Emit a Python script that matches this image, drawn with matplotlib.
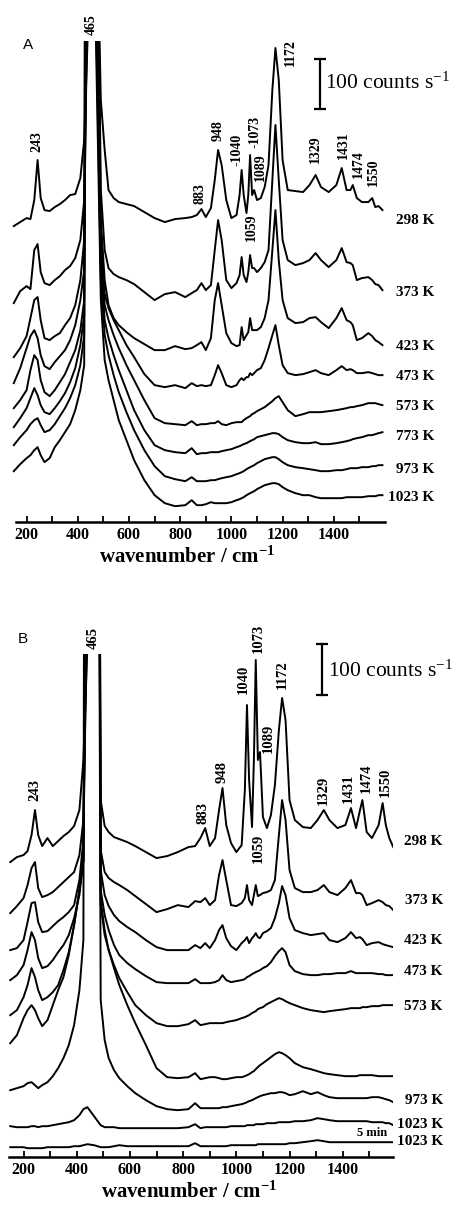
import matplotlib
matplotlib.use("Agg")
import matplotlib.pyplot as plt
from matplotlib.ticker import FixedLocator

plt.rcParams["font.family"] = ["Liberation Serif", "DejaVu Serif"]
plt.rcParams["mathtext.default"] = "regular"

# wavenumber grid the traces were read on (cm-1)
wavenumber = [150, 175, 200, 215, 230, 243, 255, 270, 290, 310,
              330, 350, 370, 390, 410, 425, 440, 465, 490, 505,
              520, 540, 560, 590, 620, 660, 700, 740, 780, 820,
              845, 865, 883, 900, 920, 935, 948, 962, 980, 1000,
              1020, 1032, 1040, 1048, 1059, 1066, 1073, 1081, 1089, 1100,
              1115, 1130, 1145, 1160, 1172, 1185, 1200, 1220, 1250, 1280,
              1305, 1329, 1350, 1380, 1410, 1431, 1450, 1465, 1474, 1490,
              1510, 1535, 1550, 1562, 1575, 1590]

# panel A, intensity above each trace's own minimum (counts s-1)
# the 440/465 points are off scale (the 465 band is cut at the top)
a_298 = [0, 8, 16, 14, 52, 132, 56, 32, 30, 38,
         44, 52, 62, 64, 96, 172, 400, 842, 252, 152,
         72, 56, 48, 44, 40, 28, 16, 8, 14, 16,
         18, 22, 34, 18, 36, 92, 152, 122, 52, 16,
         22, 62, 112, 62, 26, 62, 142, 62, 72, 52,
         56, 78, 122, 272, 356, 292, 132, 72, 70, 68,
         82, 102, 78, 68, 82, 116, 72, 72, 82, 56,
         48, 48, 56, 38, 40, 32]
a_373 = [0, 24, 34, 28, 106, 118, 62, 40, 36, 46,
         54, 66, 74, 90, 126, 206, 640, 1290, 226, 106,
         70, 58, 52, 46, 38, 22, 6, 18, 22, 12,
         20, 26, 40, 26, 36, 106, 166, 126, 46, 30,
         40, 56, 92, 56, 42, 62, 96, 70, 70, 62,
         70, 82, 106, 246, 356, 246, 126, 86, 76, 80,
         86, 100, 86, 72, 86, 110, 82, 80, 76, 46,
         50, 52, 46, 38, 36, 26]
a_423 = [0, 18, 42, 78, 114, 120, 74, 38, 34, 42,
         48, 64, 78, 104, 154, 234, 897, 1268, 274, 154,
         104, 78, 64, 50, 38, 26, 14, 14, 22, 16,
         18, 24, 30, 14, 38, 114, 148, 104, 48, 28,
         22, 24, 60, 34, 44, 50, 78, 54, 54, 54,
         60, 78, 114, 214, 294, 194, 114, 78, 68, 70,
         78, 80, 70, 58, 78, 98, 74, 70, 64, 34,
         38, 48, 42, 34, 30, 24]
a_473 = [10, 40, 80, 104, 116, 100, 66, 44, 38, 52,
         64, 76, 96, 126, 176, 236, 1217, 1201, 296, 188,
         160, 136, 116, 86, 62, 28, 6, 2, 6, 0,
         10, 4, 6, 4, 6, 26, 46, 30, 6, 2,
         6, 16, 20, 16, 22, 22, 30, 26, 30, 36,
         40, 56, 80, 106, 126, 86, 46, 30, 26, 28,
         32, 36, 30, 26, 36, 44, 36, 38, 36, 30,
         30, 32, 30, 28, 26, 26]
a_573 = [34, 50, 70, 110, 140, 130, 90, 66, 58, 70,
         86, 102, 126, 150, 190, 250, 1804, 1154, 350, 240,
         210, 180, 154, 120, 90, 50, 14, 4, 2, 0,
         8, 0, 2, 2, 4, 4, 8, 2, 0, 4,
         6, 6, 6, 10, 14, 16, 18, 22, 24, 28,
         32, 36, 42, 48, 54, 58, 46, 30, 18, 22,
         26, 26, 26, 28, 30, 32, 34, 36, 36, 38,
         40, 44, 44, 44, 42, 40]
a_773 = [54, 72, 92, 112, 132, 118, 98, 84, 80, 92,
         106, 122, 144, 172, 218, 278, 2333, 1125, 378, 268,
         232, 198, 168, 128, 88, 48, 18, 8, 4, 2,
         12, 0, 2, 2, 4, 4, 4, 6, 8, 10,
         14, 16, 18, 20, 22, 24, 26, 28, 30, 34,
         36, 38, 40, 42, 42, 40, 34, 28, 24, 22,
         22, 24, 20, 20, 22, 24, 26, 28, 30, 32,
         34, 38, 38, 40, 42, 44]
a_973 = [72, 88, 102, 114, 122, 126, 112, 98, 102, 114,
         130, 146, 166, 192, 232, 292, 3232, 1105, 402, 292,
         252, 212, 178, 138, 102, 62, 30, 10, 4, 0,
         8, 0, 0, 0, 2, 2, 4, 6, 8, 10,
         14, 16, 18, 20, 24, 26, 28, 30, 32, 36,
         40, 44, 46, 48, 48, 44, 38, 32, 28, 26,
         24, 22, 20, 20, 22, 22, 24, 26, 26, 26,
         28, 28, 30, 30, 32, 32]
a_1023 = [70, 84, 96, 102, 112, 118, 102, 88, 96, 118,
          132, 148, 164, 192, 232, 282, 5142, 1094, 412, 292,
          252, 212, 172, 132, 92, 52, 22, 6, 0, 2,
          12, 2, 2, 4, 8, 6, 6, 6, 6, 8,
          12, 14, 16, 18, 22, 24, 26, 28, 30, 34,
          38, 42, 44, 46, 46, 44, 38, 32, 26, 22,
          22, 18, 16, 16, 16, 16, 18, 18, 18, 18,
          18, 20, 20, 20, 22, 22]

# panel B
b_298 = [0, 10, 14, 22, 54, 104, 54, 32, 48, 32,
         42, 52, 60, 72, 104, 204, 431, 4000, 124, 72,
         60, 50, 46, 40, 32, 20, 8, 12, 20, 30,
         32, 48, 68, 32, 48, 104, 148, 74, 38, 20,
         34, 144, 314, 164, 70, 204, 404, 204, 220, 90,
         68, 94, 154, 264, 328, 284, 124, 84, 70, 68,
         84, 104, 84, 68, 74, 108, 68, 104, 124, 60,
         48, 74, 118, 74, 48, 30]
b_373 = [0, 14, 30, 56, 90, 102, 50, 32, 36, 42,
         52, 62, 72, 82, 116, 186, 601, 4000, 126, 82,
         70, 62, 56, 46, 34, 18, 2, 8, 16, 12,
         24, 22, 30, 16, 26, 76, 106, 66, 16, 14,
         20, 30, 56, 26, 16, 36, 56, 34, 36, 40,
         42, 46, 66, 156, 226, 186, 86, 50, 42, 42,
         46, 56, 42, 36, 50, 66, 40, 40, 36, 16,
         20, 26, 22, 16, 14, 6]
b_423 = [0, 4, 20, 56, 94, 96, 56, 36, 38, 48,
         58, 66, 76, 90, 140, 220, 778, 4000, 160, 110,
         88, 70, 58, 46, 36, 20, 6, 0, 0, 0,
         10, 4, 14, 4, 20, 40, 50, 24, 8, 0,
         14, 20, 26, 14, 24, 28, 34, 26, 24, 34,
         38, 44, 64, 94, 128, 110, 64, 40, 34, 30,
         32, 34, 20, 16, 24, 36, 24, 26, 22, 10,
         14, 16, 12, 10, 8, 6]
b_473 = [6, 16, 36, 66, 102, 86, 50, 30, 34, 46,
         62, 76, 96, 130, 176, 246, 1019, 4000, 186, 136,
         106, 76, 56, 40, 28, 14, 2, 0, 0, 0,
         8, 0, 0, 0, 2, 6, 16, 6, 2, 4,
         6, 8, 12, 14, 18, 20, 22, 24, 26, 30,
         34, 42, 54, 64, 70, 62, 36, 24, 18, 16,
         16, 18, 18, 20, 20, 24, 20, 20, 20, 20,
         20, 18, 18, 16, 16, 16]
b_573 = [22, 32, 58, 82, 116, 98, 72, 52, 58, 68,
         82, 112, 148, 202, 272, 332, 1362, 4000, 242, 182,
         152, 122, 96, 68, 42, 22, 6, 0, 0, 4,
         12, 2, 4, 6, 6, 6, 6, 8, 10, 12,
         16, 18, 20, 22, 26, 28, 30, 34, 36, 38,
         44, 48, 52, 56, 54, 50, 46, 42, 36, 32,
         30, 28, 30, 32, 34, 36, 36, 36, 38, 38,
         40, 40, 42, 42, 42, 42]
b_773 = [72, 88, 122, 138, 148, 138, 122, 106, 118, 148,
         178, 204, 248, 308, 378, 438, 1983, 4000, 358, 298,
         258, 222, 188, 148, 112, 68, 22, 4, 2, 4,
         12, 0, 2, 4, 4, 2, 0, 0, 2, 4,
         4, 6, 8, 10, 14, 16, 20, 24, 28, 32,
         38, 44, 50, 54, 52, 48, 42, 32, 24, 20,
         16, 12, 10, 8, 6, 6, 6, 8, 8, 8,
         8, 6, 6, 6, 6, 6]
b_973 = [40, 44, 48, 54, 56, 50, 44, 50, 56, 68,
         84, 104, 130, 170, 240, 340, 4630, 4000, 220, 140,
         104, 80, 64, 48, 34, 20, 8, 2, 0, 2,
         14, 4, 4, 4, 4, 4, 6, 6, 8, 10,
         12, 14, 16, 18, 20, 22, 24, 26, 28, 30,
         32, 34, 34, 36, 36, 34, 30, 32, 38, 32,
         36, 30, 26, 24, 24, 24, 24, 24, 24, 24,
         26, 26, 24, 22, 20, 16]
b_1023 = [4, 2, 2, 2, 4, 4, 2, 4, 4, 6,
          8, 10, 12, 16, 26, 38, 42, 24, 6, 2,
          2, 2, 0, 0, 0, 0, 0, 0, 0, 2,
          8, 0, 2, 2, 2, 2, 2, 2, 4, 4,
          4, 4, 6, 6, 6, 6, 8, 8, 8, 8,
          10, 10, 10, 12, 12, 12, 12, 14, 14, 16,
          20, 18, 16, 14, 14, 14, 14, 14, 14, 14,
          12, 12, 12, 10, 10, 6]
b_1023_5min = [2, 2, 2, 0, 0, 0, 0, 0, 2, 2,
               2, 2, 2, 4, 4, 6, 8, 6, 2, 2,
               2, 4, 6, 4, 4, 4, 4, 4, 4, 4,
               10, 4, 4, 4, 4, 4, 4, 4, 6, 6,
               6, 6, 6, 6, 6, 6, 6, 8, 8, 8,
               8, 8, 8, 8, 8, 8, 10, 10, 12, 14,
               16, 14, 12, 12, 12, 12, 12, 12, 12, 12,
               12, 12, 12, 12, 12, 12]

a_temps = ["298 K", "373 K", "423 K", "473 K", "573 K", "773 K", "973 K", "1023 K"]
b_temps = ["298 K", "373 K", "423 K", "473 K", "573 K", "", "973 K", "1023 K", "1023 K"]
peak_names = ["243", "465", "883", "948", "1040", "1073", "1089", "1059",
              "1172", "1329", "1431", "1474", "1550"]
a_peak_text = ["243", "465", "883", "948", "-1040", "-1073", "1089", "1059",
               "1172", "1329", "1431", "1474", "1550"]
tick_values = [200, 400, 600, 800, 1000, 1200, 1400]
minor_ticks = [300, 500, 700, 900, 1100, 1300, 1500]
scale_bar = 100

a_spectra = [a_298, a_373, a_423, a_473, a_573, a_773, a_973, a_1023]
b_spectra = [b_298, b_373, b_423, b_473, b_573, b_773, b_973, b_1023, b_1023_5min]

# ---- layout (pixel based) ----
W, H = 457, 1206
a_offsets = [591, 437, 329, 267, 193, 135, 81, 31]
b_offsets = [589, 487, 413, 347, 261, 155, 93, 57, 17]
a_label_y = [220, 292.7, 346.7, 376.7, 406.7, 436, 469.3, 497.3]
b_label_y = [841.7, 900, 940, 971.7, 1006.7, 0, 1100, 1125, 1141.7]
a_peak_pos = [(239, 760), (454, 993), (877, 657), (948, 781), (1022, 743), (1092, 779),
              (1112, 709), (1079, 589), (1229, 937), (1327, 745), (1436, 753), (1495, 715),
              (1553, 699)]
b_peak_pos = [(243, 733), (462, 1037), (876, 687), (948, 769), (1026, 955), (1082, 1037),
              (1120, 837), (1082, 617), (1174, 963), (1327, 733), (1421, 737), (1487, 757),
              (1559, 749)]

fig = plt.figure(figsize=(W / 100, H / 100), dpi=100)
axA = fig.add_axes([12 / W, 1 - 521.7 / H, 373 / W, 480.7 / H])
axB = fig.add_axes([6 / W, 1 - 1156.7 / H, 387 / W, 502.7 / H])


def draw_panel(ax, spectra, offsets, xlim, ytop, spine_from):
    for trace, off in zip(spectra, offsets):
        ax.plot(wavenumber, [v + off for v in trace], color="black", lw=1.4)
    ax.set_xlim(*xlim)
    ax.set_ylim(0, ytop)
    for side in ("top", "right", "left"):
        ax.spines[side].set_visible(False)
    ax.spines["bottom"].set_bounds(spine_from, xlim[1])
    ax.spines["bottom"].set_linewidth(1.8)
    ax.set_yticks([])
    ax.xaxis.set_major_locator(FixedLocator(tick_values))
    ax.xaxis.set_minor_locator(FixedLocator(minor_ticks))
    ax.tick_params(axis="x", which="both", direction="in", length=4, width=1.3, pad=4)
    ax.set_xticklabels([str(t) for t in tick_values], fontsize=11.5, fontweight="bold")
    ax.patch.set_visible(False)


draw_panel(axA, a_spectra, a_offsets, (143, 1600), 961, 158)
draw_panel(axB, b_spectra, b_offsets, (134, 1589), 1005, 145)

for txt, (x, y) in zip(a_peak_text, a_peak_pos):
    axA.text(x, y, txt, rotation=90, ha="center", va="center", fontsize=10,
             fontweight="bold", clip_on=False)
for txt, (x, y) in zip(peak_names, b_peak_pos):
    axB.text(x, y, txt, rotation=90, ha="center", va="center", fontsize=10.5,
             fontweight="bold", clip_on=False)

# scale bars
for ax, x, yc, tx, ty in [(axA, 1346, 876, 1366, 877), (axB, 1321, 974, 1344, 970)]:
    ax.plot([x, x], [yc - scale_bar / 2, yc + scale_bar / 2], color="black", lw=1.6,
            clip_on=False)
    ax.plot([x, x], [yc - scale_bar / 2, yc + scale_bar / 2], ls="none", marker="_",
            ms=9, mew=1.6, color="black", clip_on=False)
    ax.text(tx, ty, "100 counts s$^{-1}$", fontsize=15.5, ha="left", va="center",
            clip_on=False)

for name, y in zip(a_temps, a_label_y):
    fig.text(434 / W, 1 - y / H, name, ha="right", va="center", fontsize=11,
             fontweight="bold")
for name, y in zip(b_temps, b_label_y):
    if name:
        fig.text(443 / W, 1 - y / H, name, ha="right", va="center", fontsize=11,
                 fontweight="bold")
fig.text(372.5 / W, 1 - 1133 / H, "5 min", ha="center", va="center", fontsize=9,
         fontweight="bold")

for x, y in [(186.5, 557), (189, 1191.7)]:
    fig.text(x / W, 1 - y / H, "wavenumber / cm$^{-1}$", ha="center", va="center",
             fontsize=15, fontweight="bold")

fig.text(28 / W, 1 - 45 / H, "A", ha="center", va="center", fontsize=11,
         family="Liberation Sans")
fig.text(23 / W, 1 - 639 / H, "B", ha="center", va="center", fontsize=11,
         family="Liberation Sans")

fig.savefig("out.png", dpi=100)
